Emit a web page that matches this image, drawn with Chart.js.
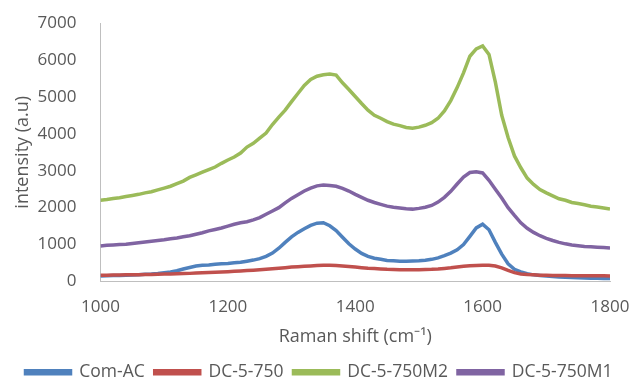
<!DOCTYPE html>
<html>
<head>
<meta charset="utf-8">
<script src="https://cdn.jsdelivr.net/npm/chart.js@4.4.1/dist/chart.umd.min.js"></script>
<style>
  html, body { margin: 0; padding: 0; background: #fff; }
  #wrap { width: 632px; height: 379px; }
</style>
</head>
<body>
<div id="wrap"><canvas id="ramanChart" width="632" height="379"></canvas></div>
<script>
// Raman shift, every 10 cm-1 from 1000 to 1800
const shifts = [
  1000,1010,1020,1030,1040,1050,1060,1070,1080,1090,
  1100,1110,1120,1130,1140,1150,1160,1170,1180,1190,
  1200,1210,1220,1230,1240,1250,1260,1270,1280,1290,
  1300,1310,1320,1330,1340,1350,1360,1370,1380,1390,
  1400,1410,1420,1430,1440,1450,1460,1470,1480,1490,
  1500,1510,1520,1530,1540,1550,1560,1570,1580,1590,
  1600,1610,1620,1630,1640,1650,1660,1670,1680,1690,
  1700,1710,1720,1730,1740,1750,1760,1770,1780,1790,
  1800
];

const comAC = [
  150,155,160,165,170,175,185,195,205,220,
  240,255,290,340,380,420,440,450,470,480,
  490,505,520,550,580,620,680,770,900,1060,
  1210,1330,1430,1520,1580,1590,1510,1380,1200,1020,
  880,760,680,630,600,570,560,550,550,555,
  560,575,600,640,700,770,860,1000,1220,1450,
  1550,1400,1060,740,480,330,260,210,180,165,
  150,135,125,115,105,100,95,90,85,82,
  80
];

const dc5750 = [
  170,172,175,178,180,183,186,190,192,195,
  200,205,210,215,220,228,235,242,250,258,
  266,275,285,295,305,318,330,345,360,375,
  390,400,410,420,430,440,440,435,420,405,
  390,375,360,350,340,330,325,320,320,318,
  320,325,330,340,355,370,390,410,425,435,
  440,440,420,370,300,240,205,190,180,172,
  168,165,162,160,158,157,156,155,154,153,
  152
];

const dc5750M2 = [
  2200,2220,2250,2270,2300,2330,2360,2400,2430,2480,
  2530,2580,2650,2720,2820,2890,2960,3030,3100,3200,
  3290,3370,3480,3640,3740,3880,4020,4250,4450,4640,
  4870,5090,5310,5470,5560,5600,5620,5590,5380,5200,
  5010,4820,4640,4500,4420,4330,4260,4220,4170,4150,
  4180,4230,4300,4420,4620,4900,5250,5650,6100,6300,
  6380,6150,5400,4500,3900,3400,3080,2800,2630,2490,
  2400,2320,2240,2200,2140,2110,2080,2040,2020,1990,
  1960
];

const dc5750M1 = [
  960,980,990,1000,1010,1030,1050,1070,1090,1110,
  1130,1160,1180,1210,1240,1280,1320,1370,1410,1450,
  1500,1550,1590,1620,1670,1730,1820,1910,2000,2130,
  2250,2350,2450,2530,2590,2610,2600,2580,2520,2450,
  2360,2280,2200,2140,2090,2040,2010,1990,1970,1960,
  1980,2010,2060,2150,2280,2440,2640,2830,2950,2970,
  2940,2740,2500,2260,2000,1790,1590,1440,1330,1240,
  1170,1110,1060,1020,990,970,950,940,930,920,
  910
];

const seriesNames = ["Com-AC", "DC-5-750", "DC-5-750M2", "DC-5-750M1"];
const seriesColors = ["#4F81BD", "#C0504D", "#9BBB59", "#8064A2"];
const seriesValues = [comAC, dc5750, dc5750M2, dc5750M1];

const textColor = "#595959";
const fontFamily = "'Open Sans', sans-serif";

const ctx = document.getElementById("ramanChart").getContext("2d");
new Chart(ctx, {
  type: "line",
  data: {
    datasets: seriesValues.map((vals, i) => ({
      label: seriesNames[i],
      data: shifts.map((x, j) => ({ x: x, y: vals[j] })),
      borderColor: seriesColors[i],
      backgroundColor: seriesColors[i],
      borderWidth: 3.5,
      pointRadius: 0,
      fill: false,
      tension: 0,
      order: seriesValues.length - i   // later series drawn on top, like Excel
    }))
  },
  options: {
    responsive: false,
    animation: false,
    layout: { padding: { left: 6, right: 0, top: 0, bottom: -12 } },
    plugins: {
      tooltip: { enabled: false },
      legend: {
        position: "bottom",
        labels: {
          boxWidth: 45,
          boxHeight: 3,
          padding: 10,
          color: textColor,
          font: { family: fontFamily, size: 17.5 },
          sort: (a, b) => a.datasetIndex - b.datasetIndex
        }
      }
    },
    scales: {
      x: {
        type: "linear",
        min: 1000,
        max: 1800,
        grid: { display: false },
        border: { color: "#BFBFBF", width: 1 },
        afterFit: s => { s.paddingRight = 22; },
        ticks: {
          stepSize: 200,
          color: textColor,
          padding: 7,
          font: { family: fontFamily, size: 17 },
          callback: v => String(v)
        },
        title: {
          display: true,
          text: "Raman shift (cm\u207B\u00B9)",
          color: textColor,
          padding: { top: 2, bottom: 6 },
          font: { family: fontFamily, size: 18 }
        }
      },
      y: {
        min: 0,
        max: 7000,
        grid: { display: false },
        border: { color: "#BFBFBF", width: 1 },
        afterFit: s => { s.paddingTop = 23; },
        ticks: {
          stepSize: 1000,
          color: textColor,
          padding: 16,
          font: { family: fontFamily, size: 17 },
          callback: v => String(v)
        },
        title: {
          display: true,
          text: "intensity (a.u)",
          color: textColor,
          padding: { top: 6, bottom: -12 },
          font: { family: fontFamily, size: 18 }
        }
      }
    }
  }
});
</script>
</body>
</html>
